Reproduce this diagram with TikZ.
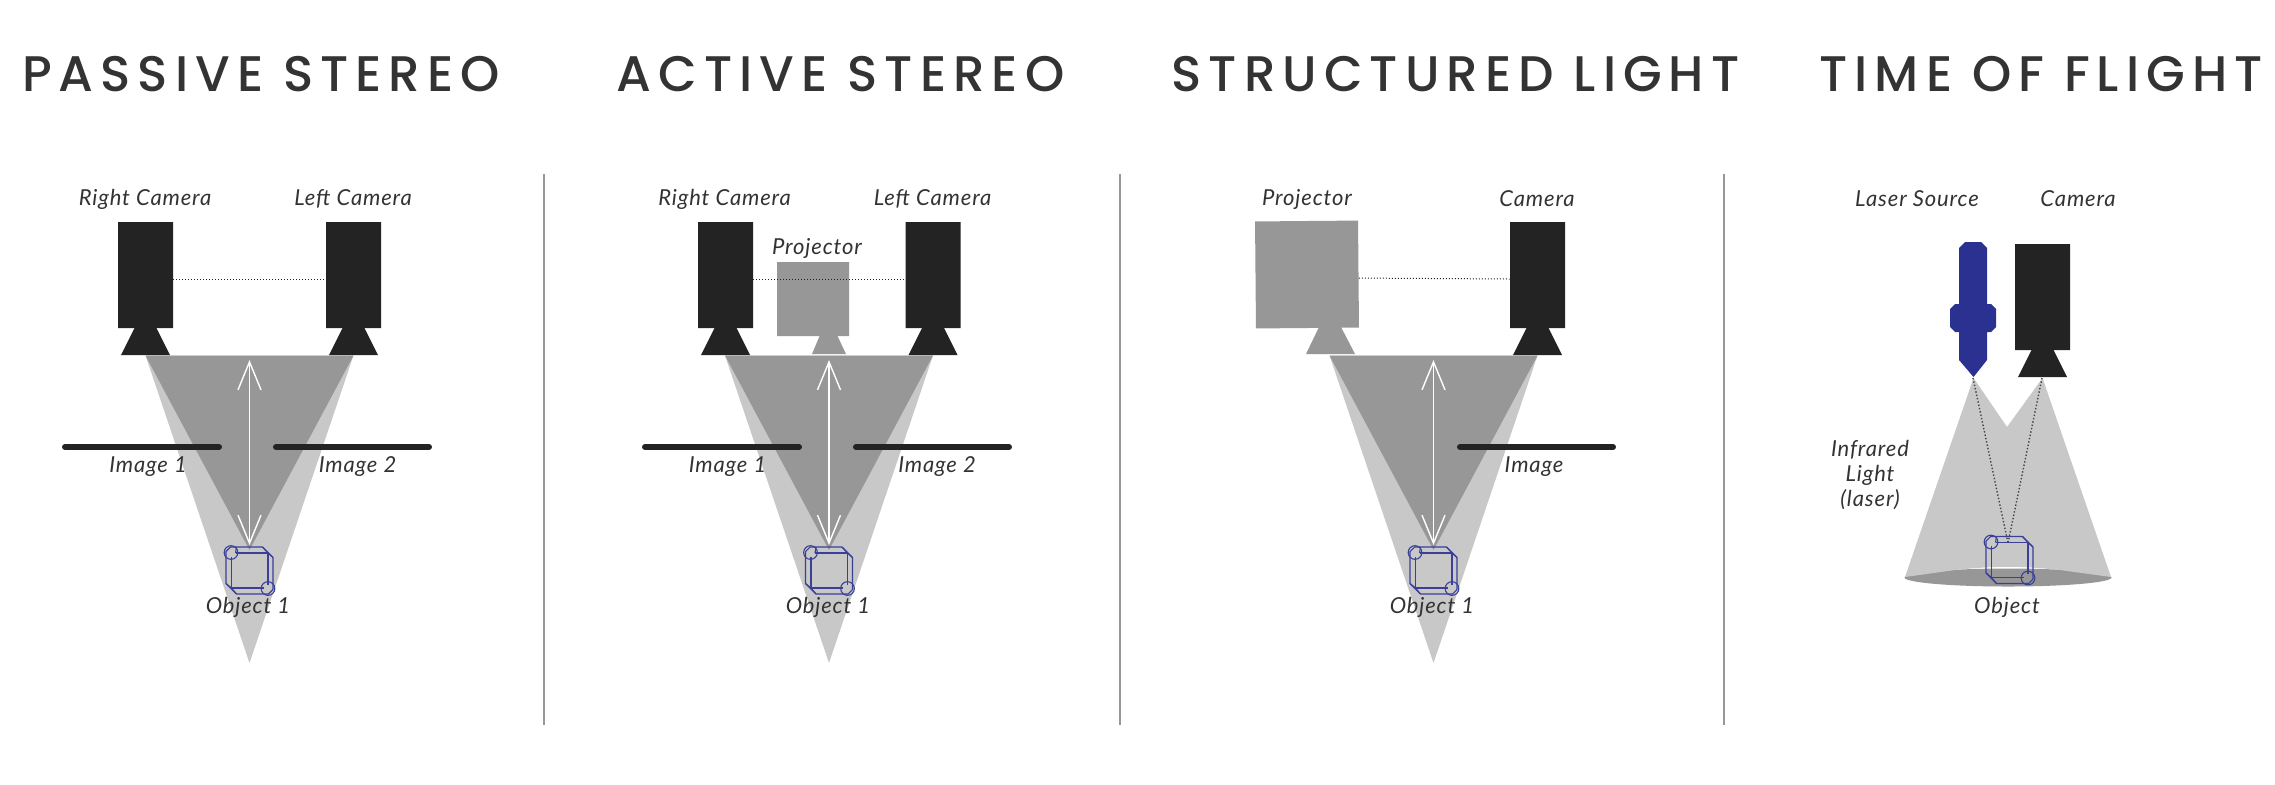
\documentclass[tikz,border=0pt]{standalone}
\usepackage{fontspec}
\usetikzlibrary{arrows.meta,shapes.misc}
\newfontfamily\titlefont[LetterSpace=14,Scale=1]{Poppins Medium}
\newfontfamily\labelfont[LetterSpace=4]{Lato Italic}
\definecolor{camblack}{HTML}{242324}
\definecolor{beamdark}{HTML}{979797}
\definecolor{beamlight}{HTML}{C8C8C8}
\definecolor{cubeblue}{HTML}{3A3F97}
\definecolor{laserblue}{HTML}{2B3190}
\definecolor{ink}{HTML}{333333}
\tikzset{
  x=0.5pt,y=-0.5pt,
  heading/.style={font=\titlefont\fontsize{25}{25}\selectfont,text=ink,inner sep=0pt,anchor=center},
  lbl/.style={font=\labelfont\fontsize{11}{11}\selectfont,text=ink,inner sep=0pt,anchor=center},
  cambody/.style={chamfered rectangle,chamfered rectangle xsep=2.5pt,chamfered rectangle ysep=2.5pt,fill=camblack,draw=none,minimum width=27.5pt,minimum height=53pt,inner sep=0pt},
  imagebar/.style={line width=3pt,camblack,line cap=round},
  sightline/.style={densely dotted,line width=0.5pt,camblack},
  rangearrow/.style={white,line width=0.7pt,{Straight Barb[length=14pt,width=11.5pt]}-{Straight Barb[length=14pt,width=11.5pt]}},
  divider/.style={draw=beamdark,line width=1pt},
  cube/.style={draw=cubeblue,line width=0.55pt,line join=round},
}
% camera with lens: #1 name, #2 centre x of the lens, #3 body top y
\newcommand{\camera}[3]{%
  \node[cambody] (#1) at (#2,#3+53) {};
  \fill[camblack] (#2-11,#3+106) -- (#2+11,#3+106) -- (#2+24.5,#3+133) -- (#2-24.5,#3+133) -- cycle;
}
% cube: #1 name, #2 x, #3 y
\newcommand{\cubeshape}[3]{%
  \begin{scope}[shift={(#2,#3)}]
    \coordinate (#1) at (0,0);
    \draw[cube] (-19,-23.5) -- (13,-23.5) -- (23.5,-13) -- (23.5,19) -- (19,23.5) -- (-13,23.5) -- (-23.5,13) -- (-23.5,-19) -- cycle;
    \draw[cube] (-14,-17.5) -- (18.5,-17.5) -- (18.5,14) (14,17.5) -- (-18,17.5) -- (-18,-14);
    \draw[cube] (13,-23.5) -- (18.5,-17.5) (-13,23.5) -- (-18,17.5);
    \draw[cube] (-23.5,13) -- (-18,17.5) (23.5,-13) -- (18.5,-17.5);
    \draw[cube] (-13,-23.5) -- (-14,-17.5);
    \draw[cube] (-18.5,-18) circle[radius=3.8pt*0.5*1.8];
    \draw[cube] (18.5,18) circle[radius=3.8pt*0.5*1.8];
  \end{scope}
}
% beams: #1 prefix, #2 centre x
\newcommand{\beams}[2]{%
  \fill[beamlight] (#2-104,355.5) -- (#2+104,355.5) -- (#2,663) -- cycle;
  \fill[beamdark] (#2-104,355.5) -- (#2+104,355.5) -- (#2,550) -- cycle;
  \coordinate (#1top) at (#2,360);
  \coordinate (#1bot) at (#2,545);
  \draw[rangearrow] (#1top) -- (#1bot);
}
\begin{document}
\begin{tikzpicture}
\useasboundingbox (0,0) rectangle (2275,784);
\fill[white] (0,0) rectangle (2275,784);
% headings
\node[heading] (t1) at (261,74) {PASSIVE STEREO};
\node[heading] (t2) at (840.5,74) {ACTIVE STEREO};
\node[heading] (t3) at (1455.5,74) {STRUCTURED LIGHT};
\node[heading] (t4) at (2041,74) {TIME OF FLIGHT};
% dividers
\coordinate (d1a) at (544,174); \coordinate (d1b) at (544,725);
\coordinate (d2a) at (1119.5,174); \coordinate (d2b) at (1119.5,725);
\coordinate (d3a) at (1724,174); \coordinate (d3b) at (1724,725);
\draw[divider] (d1a) -- (d1b);
\draw[divider] (d2a) -- (d2b);
\draw[divider] (d3a) -- (d3b);
% panel 1
\beams{a}{249.5}
\camera{acl}{145.5}{222}
\camera{acr}{353.5}{222}
\draw[sightline] ([yshift=-2pt]acl.east) -- ([yshift=-2pt]acr.west);
\coordinate (ai1) at (65,447); \coordinate (ai2) at (219,447);
\coordinate (ai3) at (276,447); \coordinate (ai4) at (429,447);
\draw[imagebar] (ai1) -- (ai2);
\draw[imagebar] (ai3) -- (ai4);
\cubeshape{acube}{249.5}{570.5}
\node[lbl] (alr) at (145,199) {Right Camera};
\node[lbl] (all) at (353,199) {Left Camera};
\node[lbl] (ali1) at (148,467) {Image 1};
\node[lbl] (ali2) at (357.5,467) {Image 2};
\node[lbl] (alo) at (248,607) {Object 1};
% panel 2
\beams{b}{829}
\fill[beamdark] (812,354) -- (820,335) -- (837,335) -- (846,354) -- cycle;
\node[chamfered rectangle,chamfered rectangle xsep=2pt,chamfered rectangle ysep=2pt,fill=beamdark,minimum width=36pt,minimum height=37pt,inner sep=0pt] (bproj) at (813,299) {};
\camera{bcl}{725.5}{222}
\camera{bcr}{933}{222}
\draw[sightline] ([yshift=-2pt]bcl.east) -- ([yshift=-2pt]bcr.west);
\coordinate (bi1) at (645,447); \coordinate (bi2) at (799,447);
\coordinate (bi3) at (856,447); \coordinate (bi4) at (1009,447);
\draw[imagebar] (bi1) -- (bi2);
\draw[imagebar] (bi3) -- (bi4);
\cubeshape{bcube}{829}{570.5}
\node[lbl] (blr) at (724.5,199) {Right Camera};
\node[lbl] (bll) at (932.5,199) {Left Camera};
\node[lbl] (blp) at (817,248) {Projector};
\node[lbl] (bli1) at (727.5,467) {Image 1};
\node[lbl] (bli2) at (937,467) {Image 2};
\node[lbl] (blo) at (828,607) {Object 1};
% panel 3
\beams{c}{1433.5}
\fill[beamdark] (1306,354) -- (1319,327) -- (1341,327) -- (1355,354) -- cycle;
\node[chamfered rectangle,chamfered rectangle xsep=2.5pt,chamfered rectangle ysep=2.5pt,fill=beamdark,minimum width=51.5pt,minimum height=53.5pt,inner sep=0pt,rotate=0.5] (cproj) at (1307,274.5) {};
\camera{ccr}{1537.5}{222}
\draw[sightline] ([yshift=-2pt]cproj.east) -- ([yshift=-2pt]ccr.west);
\coordinate (ci3) at (1460,447); \coordinate (ci4) at (1613,447);
\draw[imagebar] (ci3) -- (ci4);
\cubeshape{ccube}{1433.5}{570.5}
\node[lbl] (clp) at (1307,199) {Projector};
\node[lbl] (clc) at (1537,199) {Camera};
\node[lbl] (cli) at (1534,467) {Image};
\node[lbl] (clo) at (1432,607) {Object 1};
% panel 4
\fill[beamdark] (2008,577.5) ellipse[x radius=103.5,y radius=9];
\fill[beamlight] (1973.5,378) -- (2007,427) -- (2042.5,378) -- (2111,577) -- (2060,570) to[bend right=6] (1955,570) -- (1905,577) -- cycle;
\camera{dcam}{2042.5}{244}
\fill[laserblue] (1965,242) -- (1981,242) -- (1987,248) -- (1987,304) -- (1991,304) -- (1996,309) -- (1996,327) -- (1991,332) -- (1987,332) -- (1987,360) -- (1973.5,377) -- (1959,360) -- (1959,332) -- (1955,332) -- (1950,327) -- (1950,309) -- (1955,304) -- (1959,304) -- (1959,248) -- cycle;
\coordinate (dlas) at (1973,378);
\coordinate (dcamt) at (2042,378);
\coordinate (dobj) at (2008,543);
\draw[densely dotted,line width=0.7pt,camblack!85] (dlas) -- (dobj);
\draw[densely dotted,line width=0.7pt,camblack!85] (dcamt) -- (dobj);
\cubeshape{dcube}{2009.5}{560}
\node[lbl] (dll) at (1917,199) {Laser Source};
\node[lbl] (dlc) at (2078,199) {Camera};
\node[lbl] (dlo) at (2007,607) {Object};
\node[lbl] (dli1) at (1870,450) {Infrared};
\node[lbl] (dli2) at (1870,475) {Light};
\node[lbl] (dli3) at (1870,500) {(laser)};
\end{tikzpicture}
\end{document}
